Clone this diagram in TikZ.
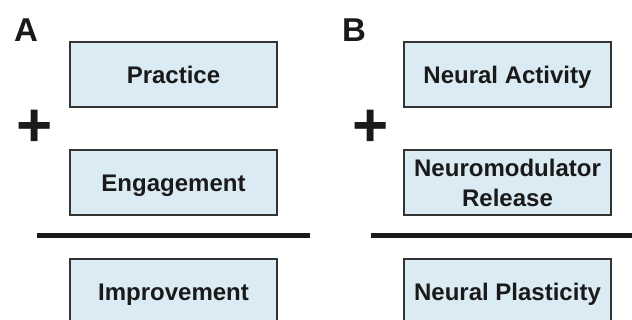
\documentclass[tikz,border=0pt]{standalone}
\usepackage{fontspec}
\setmainfont{Liberation Sans}
\definecolor{boxfill}{HTML}{DAEBF3}
\definecolor{boxline}{HTML}{333333}
\definecolor{ink}{HTML}{1A1A1A}
\begin{document}
\begin{tikzpicture}[x=1pt,y=-1pt,
  fbox/.style={draw=boxline, line width=2pt, fill=boxfill, minimum width=207pt, minimum height=65pt,
    inner sep=0pt, align=center, text=ink, font=\fontsize{24}{30}\selectfont\bfseries},
  onebox/.style={fbox, text height=17.2pt, text depth=0pt},
  panel/.style={anchor=base west, inner sep=0pt, text=ink, font=\fontsize{33}{33}\selectfont\bfseries},
  plus/.style={inner sep=0pt, text=ink, font=\fontsize{62}{62}\selectfont\bfseries},
  bar/.style={line width=5pt, draw=ink}]
\useasboundingbox (0,0) rectangle (632,320);
\clip (0,0) rectangle (632,320);
% Panel A
\node[panel] (lA) at (14,42) {A};
\node[onebox] (a1) at (173.5,74.5) {Practice};
\node[plus] (pA) at (35,128) {+};
\node[onebox] (a2) at (173.5,183) {Engagement};
\coordinate (la1) at (37,236);
\coordinate (la2) at (310,236);
\draw[bar] (la1) -- (la2);
\node[onebox] (a3) at (173.5,291.5) {Improvement};
% Panel B
\node[panel] (lB) at (342,42) {B};
\node[onebox] (b1) at (507.5,74.5) {Neural Activity};
\node[plus] (pB) at (371,128) {+};
\node[fbox] (b2) at (507.5,183) {Neuromodulator\\Release};
\coordinate (lb1) at (371,236);
\coordinate (lb2) at (632,236);
\draw[bar] (lb1) -- (lb2);
\node[onebox] (b3) at (507.5,291.5) {Neural Plasticity};
\end{tikzpicture}
\end{document}
